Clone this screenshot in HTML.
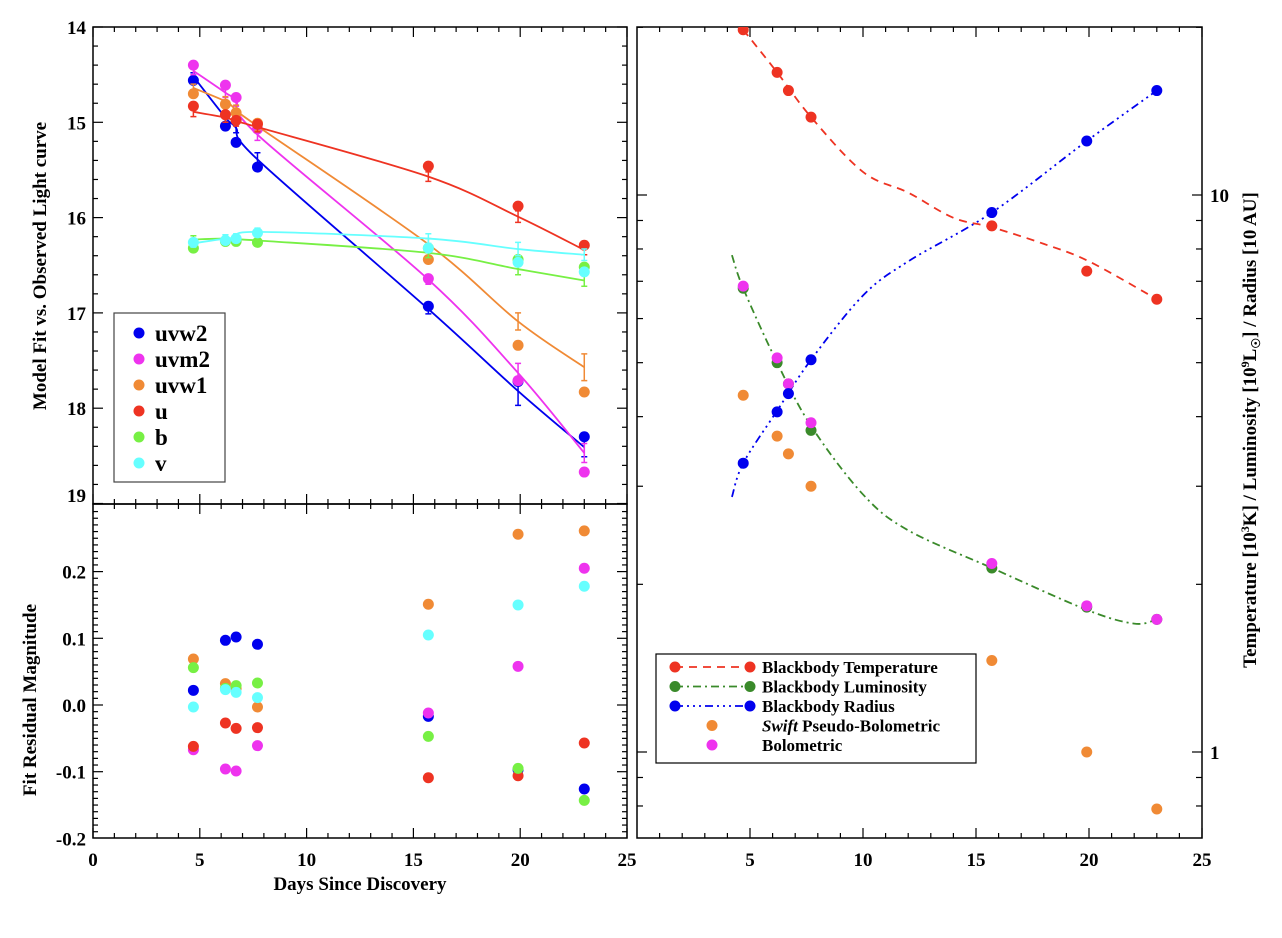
<!DOCTYPE html>
<html><head><meta charset="utf-8"><style>
html,body{margin:0;padding:0;background:#fff;}
svg{display:block;font-family:"Liberation Serif",serif;font-weight:bold;}
</style></head><body>
<svg id="fig" width="1282" height="938" viewBox="0 0 1282 938" xmlns="http://www.w3.org/2000/svg">
<g id="left"></g>
<g id="right"></g>
</svg>
<script>
// ---------- data ----------
const days = [4.7, 6.2, 6.7, 7.7, 15.7, 19.9, 23.0];
const bandNames = ["uvw2","uvm2","uvw1","u","b","v"];
const bandColors = ["#0000ee","#ee33ee","#f08a35","#ee3322","#77f044","#66ffff"];
const obsUvw2 = [14.56,15.04,15.21,15.47,16.93,17.72,18.30];
const obsUvm2 = [14.40,14.61,14.74,15.07,16.64,17.71,18.67];
const obsUvw1 = [14.70,14.81,14.90,15.01,16.44,17.34,17.83];
const obsU    = [14.83,14.92,14.98,15.02,15.46,15.88,16.29];
const obsB    = [16.32,16.25,16.25,16.26,16.32,16.44,16.52];
const obsV    = [16.26,16.24,16.22,16.16,16.32,16.47,16.57];
const fitUvw2 = [14.52,14.95,15.06,15.39,16.96,17.82,18.41];
const fitUvm2 = [14.46,14.69,14.78,15.13,16.65,17.63,18.47];
const fitUvw1 = [14.64,14.78,14.87,15.04,16.28,17.09,17.57];
const fitU    = [14.89,14.95,14.99,15.05,15.57,15.99,16.34];
const fitB    = [16.23,16.22,16.23,16.24,16.37,16.54,16.66];
const fitV    = [16.27,16.22,16.21,16.15,16.22,16.33,16.39];
const errUvw2 = [0.04,0.05,0.05,0.07,0.05,0.15,0.1];
const errUvm2 = [0.04,0.05,0.05,0.06,0.05,0.1,0.1];
const errUvw1 = [0.04,0.05,0.05,0.05,0.06,0.09,0.14];
const errU    = [0.05,0.05,0.05,0.05,0.05,0.06,0.05];
const errB    = [0.04,0.04,0.04,0.04,0.05,0.06,0.06];
const errV    = [0.04,0.04,0.04,0.04,0.05,0.07,0.06];
const resUvw2 = [0.022,0.097,0.102,0.091,-0.017,-0.097,-0.126];
const resUvm2 = [-0.067,-0.096,-0.099,-0.061,-0.012,0.058,0.205];
const resUvw1 = [0.069,0.032,0.025,-0.003,0.151,0.256,0.261];
const resU    = [-0.062,-0.027,-0.035,-0.034,-0.109,-0.106,-0.057];
const resB    = [0.056,0.025,0.029,0.033,-0.047,-0.095,-0.143];
const resV    = [-0.003,0.023,0.019,0.011,0.105,0.150,0.178];
// right panel
const tempVals = [19.8,16.6,15.4,13.8,8.8,7.3,6.5];
const lumVals  = [6.8,5.0,4.58,3.78,2.14,1.82,1.73];
const radVals  = [3.3,4.08,4.4,5.06,9.3,12.5,15.4];
const swiftVals= [4.37,3.69,3.43,3.0,1.46,1.0,0.79];
const bolVals  = [6.86,5.1,4.58,3.9,2.18,1.83,1.73];
const tempFitDays = [4.7,6.2,7.7,10,12,14,15.7,18,20,23];
const tempFitVals = [19.8,16.6,13.8,11.0,10.1,9.1,8.75,8.17,7.6,6.5];
const lumFitDays = [4.2,4.7,6.2,7.7,10,12,15.7,19.9,22,23];
const lumFitVals = [7.8,6.8,5.0,3.85,2.9,2.5,2.14,1.8,1.7,1.73];
const radFitDays = [4.2,4.7,6.2,7.7,10,12,15.7,19.9,23];
const radFitVals = [2.87,3.3,4.1,5.06,6.6,7.6,9.3,12.5,15.4];
const xTicks = [0,5,10,15,20,25];
const magTicks = [14,15,16,17,18,19];
const resTicks = [-0.2,-0.1,0.0,0.1,0.2];
const resTickLabels = ["-0.2","-0.1","0.0","0.1","0.2"];

const obs=[obsUvw2,obsUvm2,obsUvw1,obsU,obsB,obsV];
const fits=[fitUvw2,fitUvm2,fitUvw1,fitU,fitB,fitV];
const errs=[errUvw2,errUvm2,errUvw1,errU,errB,errV];
const ress=[resUvw2,resUvm2,resUvw1,resU,resB,resV];

// ---------- scales ----------
const LX0=93, LX1=627, TOP=27, MID=504, BOT=838;
const RX0=637, RX1=1202;
const xL = d => LX0 + (LX1-LX0)*d/25;
const yMag = m => TOP + (m-14)*95.3;
const yRes = r => 705 - r*667;
const xR = d => RX0 + (RX1-RX0)*d/25;
const yLog = v => 752 - 557*Math.log10(v);

const NS="http://www.w3.org/2000/svg";
function mk(tag, parent, attrs){const e=document.createElementNS(NS,tag);for(const k in attrs)e.setAttribute(k,attrs[k]);parent.appendChild(e);return e;}
const L=document.getElementById('left'), R=document.getElementById('right');

function line(p,x1,y1,x2,y2,name,w){const e=mk('line',p,{x1,y1,x2,y2,stroke:'#000','stroke-width':w||1.5});

return e;}
function text(p,x,y,s,size,anchor,name){const e=mk('text',p,{x,y,'font-size':size,'text-anchor':anchor||'middle'});e.textContent=s;

return e;}
function dot(p,x,y,c,name){const e=mk('ellipse',p,{cx:x,cy:y,rx:5.5,ry:5.5,fill:c});

return e;}
function smooth(pts){let d='M'+pts[0][0]+','+pts[0][1];
  for(let i=0;i<pts.length-1;i++){const p0=pts[Math.max(0,i-1)],p1=pts[i],p2=pts[i+1],p3=pts[Math.min(pts.length-1,i+2)];
    const c1=[p1[0]+(p2[0]-p0[0])/6,p1[1]+(p2[1]-p0[1])/6],c2=[p2[0]-(p3[0]-p1[0])/6,p2[1]-(p3[1]-p1[1])/6];
    d+=`C${c1[0]},${c1[1]} ${c2[0]},${c2[1]} ${p2[0]},${p2[1]}`;}
  return d;}

// ---------- left frames ----------
[[TOP,MID],[MID,BOT]].forEach(([a,b],i)=>{
  const r=mk('rect',L,{x:LX0,y:a,width:LX1-LX0,height:b-a,fill:'none',stroke:'#000','stroke-width':1.5});
  
  
  for(let d=0; d<=25; d++){
    const x=xL(d), len=(d%5===0)?10:5;
    line(L,x,b,x,b-len,'x-tick',1.2); line(L,x,a,x,a+len,'x-tick-top',1.2);
  }
});
xTicks.forEach(d=>text(L,xL(d),866,String(d),19,'middle','x-tick-label'));
text(L,360,890,'Days Since Discovery',19,'middle','x-axis-title');
for(let m=14; m<=19.1; m+=0.2){const y=yMag(m); if(y>MID) break;
  const maj=Math.abs(m-Math.round(m))<0.01; const len=maj?10:5;
  line(L,LX0,y,LX0+len,y,'y-tick',1.2); line(L,LX1,y,LX1-len,y,'y-tick-right',1.2);}
magTicks.forEach(m=>text(L,86,Math.min(yMag(m),495)+7,String(m),19,'end','y-tick-label'));
const t1=text(L,0,0,'Model Fit vs. Observed Light curve',19,'middle','y-axis-title-top');
t1.setAttribute('transform','translate(46,266) rotate(-90)');
for(let k=-20;k<=30;k++){const r=k/100, y=yRes(r); if(y<MID+1||y>BOT) continue;
  const len=(k%10===0)?10:5;
  line(L,LX0,y,LX0+len,y,'y-tick',1.2); line(L,LX1,y,LX1-len,y,'y-tick-right',1.2);}
resTicks.forEach((r,i)=>text(L,86,yRes(r)+7,resTickLabels[i],19,'end','res-tick-label'));
const t2=text(L,0,0,'Fit Residual Magnitude',19,'middle','y-axis-title-bottom');
t2.setAttribute('transform','translate(36,700) rotate(-90)');

// ---------- left series ----------
bandNames.forEach((b,i)=>{
  const g=mk('g',L,{});  
  const c=bandColors[i];
  const pl=mk('path',g,{d:smooth(days.map((d,j)=>[xL(d),yMag(fits[i][j])])),fill:'none',stroke:c,'stroke-width':1.8});
   
  days.forEach((d,j)=>{
    const x=xL(d), y1=yMag(fits[i][j]-errs[i][j]), y2=yMag(fits[i][j]+errs[i][j]);
    const e=mk('path',g,{d:`M${x},${y1}V${y2}M${x-3},${y1}h6M${x-3},${y2}h6`,stroke:c,'stroke-width':1.5,fill:'none'});
     
    dot(g,x,yMag(obs[i][j]),c,'point-'+b);
  });
  const g2=mk('g',L,{});  
  days.forEach((d,j)=>dot(g2,xL(d),yRes(ress[i][j]),c,'residual-point-'+b));
});
const lg=mk('g',L,{});  
const lr=mk('rect',lg,{x:114,y:313,width:111,height:169,fill:'#fff',stroke:'#444','stroke-width':1.2});
 
bandNames.forEach((b,i)=>{const y=333+i*26; dot(lg,139,y,bandColors[i],'legend-marker-'+b); text(lg,155,y+8,b,23,'start','legend-entry-'+b);});

// ---------- right panel ----------
const rr=mk('rect',R,{x:RX0,y:TOP,width:RX1-RX0,height:BOT-TOP,fill:'none',stroke:'#000','stroke-width':1.5});
 
for(let d=1; d<=25; d++){const x=xR(d), len=(d%5===0)?10:5;
  line(R,x,BOT,x,BOT-len,'x-tick',1.2); line(R,x,TOP,x,TOP+len,'x-tick-top',1.2);}
xTicks.slice(1).forEach(d=>text(R,xR(d),866,String(d),19,'middle','right-x-tick-label'));
[0.7,0.8,0.9,1,2,3,4,5,6,7,8,9,10,20].forEach(v=>{const y=yLog(v); if(y<TOP||y>BOT) return;
  const len=(v===1||v===10)?10:6;
  line(R,RX0,y,RX0+len,y,'log-tick',1.2); line(R,RX1,y,RX1-len,y,'log-tick-right',1.2);});
text(R,1210,yLog(10)+7,'10',19,'start','right-y-tick-label');
text(R,1210,yLog(1)+7,'1',19,'start','right-y-tick-label');
const t3=mk('text',R,{'font-size':19,'text-anchor':'middle',transform:'translate(1256,430) rotate(-90)'});
 
t3.innerHTML='Temperature [10<tspan dy="-7" font-size="12">3</tspan><tspan dy="7">K] / Luminosity [10</tspan><tspan dy="-7" font-size="12">9</tspan><tspan dy="7">L</tspan><tspan dy="4" font-size="12">☉</tspan><tspan dy="-4">] / Radius [10 AU]</tspan>';

function curve(p,ds,vs,c,dash,name){const e=mk('path',p,{d:smooth(ds.map((d,j)=>[xR(d),yLog(vs[j])])),fill:'none',stroke:c,'stroke-width':1.8,'stroke-dasharray':dash});
 }
const clip=mk('clipPath',R,{id:'rc'}); mk('rect',clip,{x:RX0,y:TOP,width:RX1-RX0,height:BOT-TOP});
const rg=mk('g',R,{'clip-path':'url(#rc)'});  
curve(rg,tempFitDays,tempFitVals,'#ee3322','8 6','temperature-fit');
curve(rg,lumFitDays,lumFitVals,'#3a8a2a','8 4 2 4','luminosity-fit');
curve(rg,radFitDays,radFitVals,'#0000ee','8 4 2 4 2 4 2 4','radius-fit');
days.forEach((d,j)=>{
  dot(rg,xR(d),yLog(swiftVals[j]),'#f08a35','swift-point');
  dot(rg,xR(d),yLog(lumVals[j]),'#3a8a2a','luminosity-point');
  dot(rg,xR(d),yLog(bolVals[j]),'#ee33ee','bolometric-point');
  dot(rg,xR(d),yLog(tempVals[j]),'#ee3322','temperature-point');
  dot(rg,xR(d),yLog(radVals[j]),'#0000ee','radius-point');
});
const rl=mk('g',R,{});  
const rb=mk('rect',rl,{x:656,y:654,width:320,height:109,fill:'#fff',stroke:'#000','stroke-width':1.2});
 
const ent=[['Blackbody Temperature','#ee3322','8 6',true],['Blackbody Luminosity','#3a8a2a','8 4 2 4',true],['Blackbody Radius','#0000ee','8 4 2 4 2 4 2 4',true],['Pseudo-Bolometric','#f08a35','',false],['Bolometric','#ee33ee','',false]];
ent.forEach((e,i)=>{const y=667+i*19.5;
  if(e[3]){const l=mk('line',rl,{x1:675,y1:y,x2:750,y2:y,stroke:e[1],'stroke-width':1.8,'stroke-dasharray':e[2]});
     
    dot(rl,675,y,e[1],'legend-marker'); dot(rl,750,y,e[1],'legend-marker');}
  else dot(rl,712,y,e[1],'legend-marker');
  if(i===3){const t=mk('text',rl,{x:762,y:y+6,'font-size':17,'text-anchor':'start'});
     
    t.innerHTML='<tspan font-style="italic">Swift</tspan> Pseudo-Bolometric';}
  else text(rl,762,y+6,e[0],17,'start','legend-entry');
});
</script>
</body></html>
